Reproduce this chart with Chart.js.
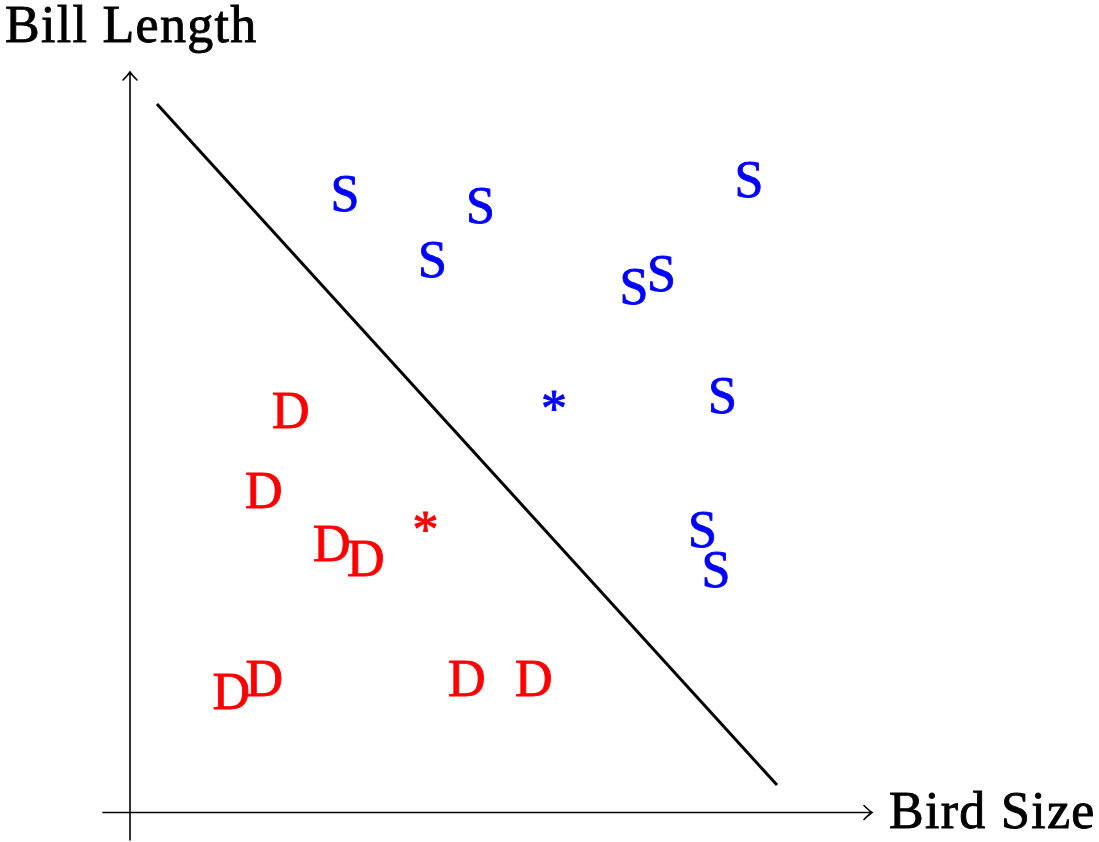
<!DOCTYPE html>
<html>
<head>
<meta charset="utf-8">
<script src="https://cdn.jsdelivr.net/npm/chart.js@4.4.1/dist/chart.umd.min.js"></script>
<style>
  html, body { margin: 0; padding: 0; background: #fff; }
</style>
</head>
<body>
<canvas id="chartContainer" width="1099" height="842"></canvas>
<script>
// songbirds (S) and ducks (D): bird size vs bill length
var sizeS = [4.30, 7.01, 6.05, 10.08, 10.63, 12.38, 11.85, 11.45, 11.72];
var billS = [12.38, 12.13, 11.05, 10.52, 10.77, 12.66, 8.34, 5.65, 4.86];
var sizeD = [3.21, 2.67, 4.03, 4.71, 2.02, 2.68, 6.73, 8.07];
var billD = [8.05, 6.45, 5.39, 5.09, 2.43, 2.69, 2.69, 2.69];
// class means
var meanS = [8.48, 8.24];
var meanD = [5.91, 5.82];
// separating line end points
var lineX = [0.54, 12.94];
var lineY = [14.17, 0.55];
// axis extents
var xRange = [-0.54, 14.84];
var yRange = [-0.55, 14.81];
var xTitle = "Bird Size";
var yTitle = "Bill Length";

var FONT = "52px 'Liberation Serif', 'Times New Roman', serif";

function pts(xs, ys) {
  var out = [];
  for (var i = 0; i < xs.length; i++) out.push({x: xs[i], y: ys[i]});
  return out;
}

// fill + thin stroke, the reference font is a bit heavier
function heavyText(c, s, x, y, col) {
  c.fillStyle = col;
  c.strokeStyle = col;
  c.lineWidth = 0.9;
  c.fillText(s, x, y);
  c.strokeText(s, x, y);
}

// draw the axes with arrow heads and the two titles
var axesPlugin = {
  id: 'axes',
  beforeDatasetsDraw: function(chart) {
    var c = chart.ctx, xs = chart.scales.x, ys = chart.scales.y;
    var x0 = xs.getPixelForValue(0), y0 = ys.getPixelForValue(0);
    var xl = xs.getPixelForValue(xRange[0]), xr = xs.getPixelForValue(xRange[1]);
    var yb = ys.getPixelForValue(yRange[0]), yt = ys.getPixelForValue(yRange[1]);
    c.save();
    c.strokeStyle = '#000';
    c.lineWidth = 1.6;
    c.lineCap = 'round';
    c.beginPath();
    c.moveTo(xl, y0); c.lineTo(xr, y0);
    c.moveTo(x0, yb); c.lineTo(x0, yt);
    // arrow heads
    c.moveTo(xr - 8, y0 - 7); c.quadraticCurveTo(xr - 3, y0 - 2, xr, y0);
    c.quadraticCurveTo(xr - 3, y0 + 2, xr - 8, y0 + 7);
    c.moveTo(x0 - 7, yt + 8); c.quadraticCurveTo(x0 - 2, yt + 3, x0, yt);
    c.quadraticCurveTo(x0 + 2, yt + 3, x0 + 7, yt + 8);
    c.stroke();
    c.font = FONT;
    c.textAlign = 'left';
    c.textBaseline = 'alphabetic';
    c.letterSpacing = '1.3px';
    heavyText(c, xTitle, xr + 17, y0 + 15, '#000');
    heavyText(c, yTitle, 5, 42, '#000');
    c.restore();
  }
};

// draw each point as a letter centred on the point
var glyphPlugin = {
  id: 'glyphs',
  afterDatasetsDraw: function(chart) {
    var c = chart.ctx;
    c.save();
    c.font = FONT;
    c.textAlign = 'left';
    c.textBaseline = 'alphabetic';
    chart.data.datasets.forEach(function(ds, di) {
      if (!ds.glyph) return;
      var m = c.measureText(ds.glyph);
      var dx = (m.actualBoundingBoxRight - m.actualBoundingBoxLeft) / 2;
      var dy = (m.actualBoundingBoxAscent - m.actualBoundingBoxDescent) / 2;
      chart.getDatasetMeta(di).data.forEach(function(el) {
        heavyText(c, ds.glyph, el.x - dx, el.y + dy, ds.glyphColor);
      });
    });
    c.restore();
  }
};

var ctx = document.getElementById('chartContainer');

var chart = new Chart(ctx, {
  type: 'scatter',
  data: {
    datasets: [
      {
        label: 'boundary',
        data: pts(lineX, lineY),
        showLine: true,
        borderColor: '#000',
        borderWidth: 3,
        pointRadius: 0
      },
      { label: 'S', data: pts(sizeS, billS), pointRadius: 0, glyph: 'S', glyphColor: '#0000ff' },
      { label: 'D', data: pts(sizeD, billD), pointRadius: 0, glyph: 'D', glyphColor: '#ff0000' },
      { label: 'mean S', data: [{x: meanS[0], y: meanS[1]}], pointRadius: 0, glyph: '*', glyphColor: '#0000ff' },
      { label: 'mean D', data: [{x: meanD[0], y: meanD[1]}], pointRadius: 0, glyph: '*', glyphColor: '#ff0000' }
    ]
  },
  options: {
    responsive: false,
    animation: false,
    devicePixelRatio: 1,
    layout: { padding: { left: 103, right: 227, top: 72, bottom: 2 } },
    scales: {
      x: { type: 'linear', display: false, min: xRange[0], max: xRange[1] },
      y: { type: 'linear', display: false, min: yRange[0], max: yRange[1] }
    },
    plugins: {
      legend: { display: false },
      tooltip: { enabled: false }
    }
  },
  plugins: [axesPlugin, glyphPlugin]
});
</script>
</body>
</html>
